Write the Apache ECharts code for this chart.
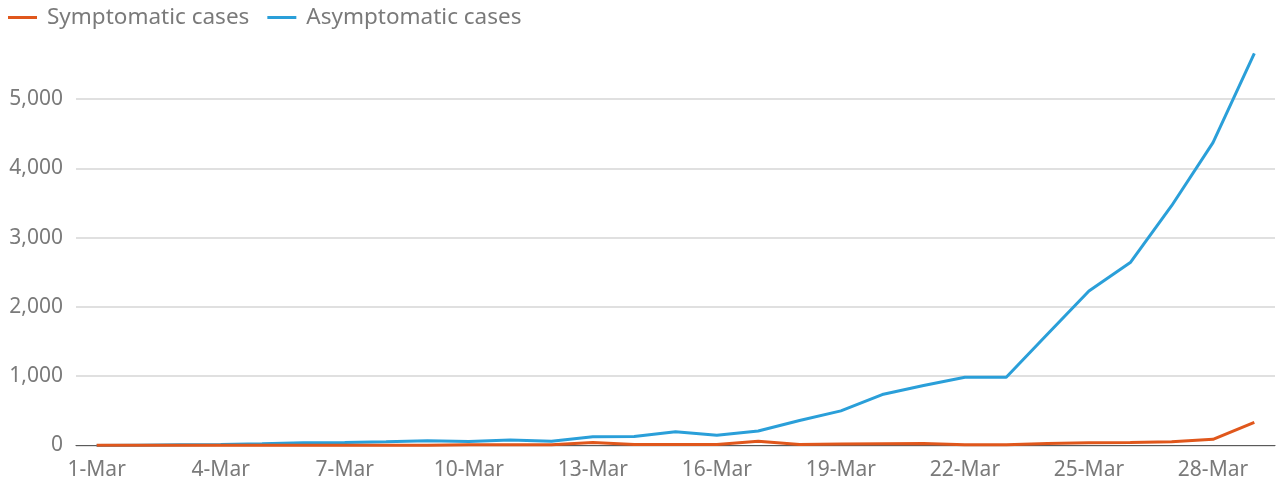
<!DOCTYPE html>
<html>
<head>
<meta charset="utf-8">
<title>Symptomatic and asymptomatic cases</title>
<script src="https://cdn.jsdelivr.net/npm/echarts@6/dist/echarts.min.js"></script>
<style>
  html, body { margin: 0; padding: 0; background: #ffffff; }
  #chart { width: 1279px; height: 486px; }
</style>
</head>
<body>
<div id="chart"></div>
<script>
// Daily dates, 1-29 March
const days = ['1-Mar','2-Mar','3-Mar','4-Mar','5-Mar','6-Mar','7-Mar','8-Mar','9-Mar','10-Mar',
  '11-Mar','12-Mar','13-Mar','14-Mar','15-Mar','16-Mar','17-Mar','18-Mar','19-Mar','20-Mar',
  '21-Mar','22-Mar','23-Mar','24-Mar','25-Mar','26-Mar','27-Mar','28-Mar','29-Mar'];

const symptomatic = [5, 5, 5, 5, 5, 5, 5, 5, 5, 10,
  10, 10, 45, 15, 15, 15, 60, 15, 20, 25,
  30, 10, 10, 30, 40, 45, 55, 90, 335];

const asymptomatic = [0, 5, 10, 15, 25, 40, 45, 55, 68, 58,
  78, 62, 125, 130, 200, 148, 210, 360, 500, 735,
  865, 985, 985, 1610, 2230, 2640, 3460, 4370, 5660];

const yTicks = [0, 1000, 2000, 3000, 4000, 5000];

const FONT = 'Noto Sans';
const chart = echarts.init(document.getElementById('chart'), null, { renderer: 'canvas' });

chart.setOption({
  backgroundColor: '#ffffff',
  animation: false,
  textStyle: { fontFamily: FONT },
  legend: {
    left: 8,
    top: 6,
    padding: 0,
    itemGap: 18,
    itemWidth: 29,
    itemHeight: 3,
    icon: 'rect',
    textStyle: { color: '#7a7a7a', fontSize: 22.5, fontFamily: FONT, padding: [0, 0, 0, 5] },
    data: ['Symptomatic cases', 'Asymptomatic cases']
  },
  grid: { left: 76, right: 4, top: 99, bottom: 40.5, containLabel: false },
  xAxis: {
    type: 'category',
    data: days,
    boundaryGap: true,
    axisLine: { show: true, lineStyle: { color: '#5a5a5a', width: 1.2 } },
    axisTick: { show: false },
    axisLabel: {
      interval: 2,
      color: '#7a7a7a',
      fontSize: 21,
      fontFamily: FONT,
      margin: 14
    },
    splitLine: { show: false }
  },
  yAxis: {
    type: 'value',
    min: yTicks[0],
    max: yTicks[yTicks.length - 1],
    interval: 1000,
    axisLine: { show: false },
    axisTick: { show: false },
    axisLabel: {
      color: '#7a7a7a',
      fontSize: 21,
      fontFamily: FONT,
      margin: 13,
      formatter: v => v.toLocaleString('en-US')
    },
    splitLine: { show: true, lineStyle: { color: '#d6d6d6', width: 1.5 } }
  },
  series: [
    {
      name: 'Symptomatic cases',
      type: 'line',
      data: symptomatic,
      symbol: 'none',
      clip: false,
      color: '#e0571c',
      lineStyle: { width: 3, color: '#e0571c' },
      z: 3
    },
    {
      name: 'Asymptomatic cases',
      type: 'line',
      data: asymptomatic,
      symbol: 'none',
      clip: false,
      color: '#2a9fd9',
      lineStyle: { width: 3, color: '#2a9fd9' },
      z: 2
    }
  ]
});
</script>
</body>
</html>
